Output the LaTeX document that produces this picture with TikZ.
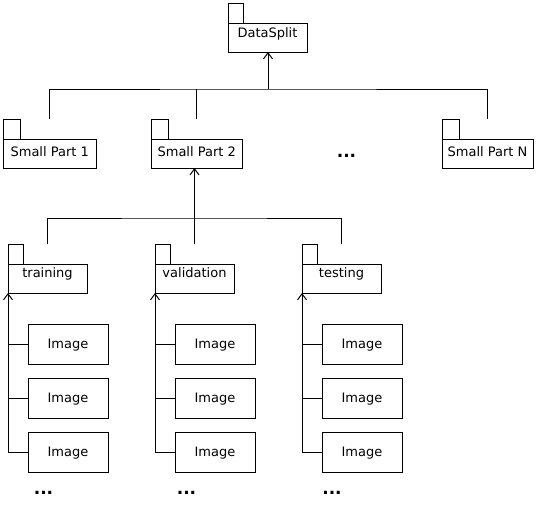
\documentclass[tikz,border=0pt]{standalone}
\usepackage{fontspec}
\setmainfont{DejaVu Sans}
\usetikzlibrary{arrows.meta}
\tikzset{
  lbl/.style={font=\fontsize{13}{15}\selectfont},
  body/.style={draw, lbl, anchor=north west, inner sep=0pt, outer sep=0pt,
    minimum height=29pt, text height=10pt, text depth=#1},
  tab/.style={draw, anchor=south west, inner sep=0pt, outer sep=0pt,
    minimum width=#1, minimum height=20pt},
  imgbox/.style={draw, lbl, anchor=north west, inner sep=0pt, outer sep=0pt,
    minimum width=80pt, minimum height=40pt, text height=9.5pt, text depth=0pt},
  dots/.style={anchor=base, inner sep=0pt, font=\fontsize{17}{17}\selectfont\bfseries},
  arr/.style={-{Straight Barb[length=6pt,width=9pt]}},
}
\begin{document}
\begin{tikzpicture}[x=1pt,y=-1pt,line width=1pt]
\useasboundingbox (0,0) rectangle (539,517);

% top level package
\node[body=10.4pt, minimum width=79pt] (ds) at (228,23) {DataSplit};
\node[tab=15pt] (dst) at (ds.north west) {};

% small parts
\node[body=5pt, minimum width=92.5pt] (sp1) at (3.5,139) {Small Part 1};
\node[tab=17pt] (sp1t) at (sp1.north west) {};
\node[body=5pt, minimum width=90.5pt] (sp2) at (151.5,139) {Small Part 2};
\node[tab=17pt] (sp2t) at (sp2.north west) {};
\node[body=5pt, minimum width=91pt] (spN) at (442,139) {Small Part N};
\node[tab=17pt] (spNt) at (spN.north west) {};
\node[dots] (dotsA) at (346.5,157) {...};

% connectors level 1
\coordinate (j1) at (268,89);
\draw[arr] (j1) -- (j1 |- ds.south);
\draw ([yshift=20pt]sp1.north) |- (j1) -| ([yshift=20pt]spN.north);
\draw (j1 -| sp2.north) -- ([yshift=20pt]sp2.north);

% subsets
\node[body=13pt, minimum width=79pt] (tr) at (8,264) {training};
\node[tab=15pt] (trt) at (tr.north west) {};
\node[body=13pt, minimum width=79pt] (va) at (155,264) {validation};
\node[tab=15pt] (vat) at (va.north west) {};
\node[body=13pt, minimum width=79pt] (te) at (302,264) {testing};
\node[tab=15pt] (tet) at (te.north west) {};

% connectors level 2
\coordinate (j2) at (194.5,218);
\draw ([yshift=20pt]tr.north) |- (j2) -| ([yshift=20pt]te.north);
\draw[arr] ([yshift=20pt]va.north) -- (va.north |- sp2.south);

% images
\foreach \c/\x/\p in {1/28/tr, 2/175/va, 3/322/te}{
  \node[imgbox] (im\c1) at (\x,324) {Image};
  \node[imgbox] (im\c2) at (\x,378) {Image};
  \node[imgbox] (im\c3) at (\x,432) {Image};
  \draw (im\c1.west) -- (im\c1.west -| \p.west);
  \draw (im\c2.west) -- (im\c2.west -| \p.west);
  \draw[arr] (im\c3.west) -| (\p.south west);
}
\node[dots] (dotsB) at (43.5,494) {...};
\node[dots] (dotsC) at (186.5,494) {...};
\node[dots] (dotsD) at (332,494) {...};
\end{tikzpicture}
\end{document}
